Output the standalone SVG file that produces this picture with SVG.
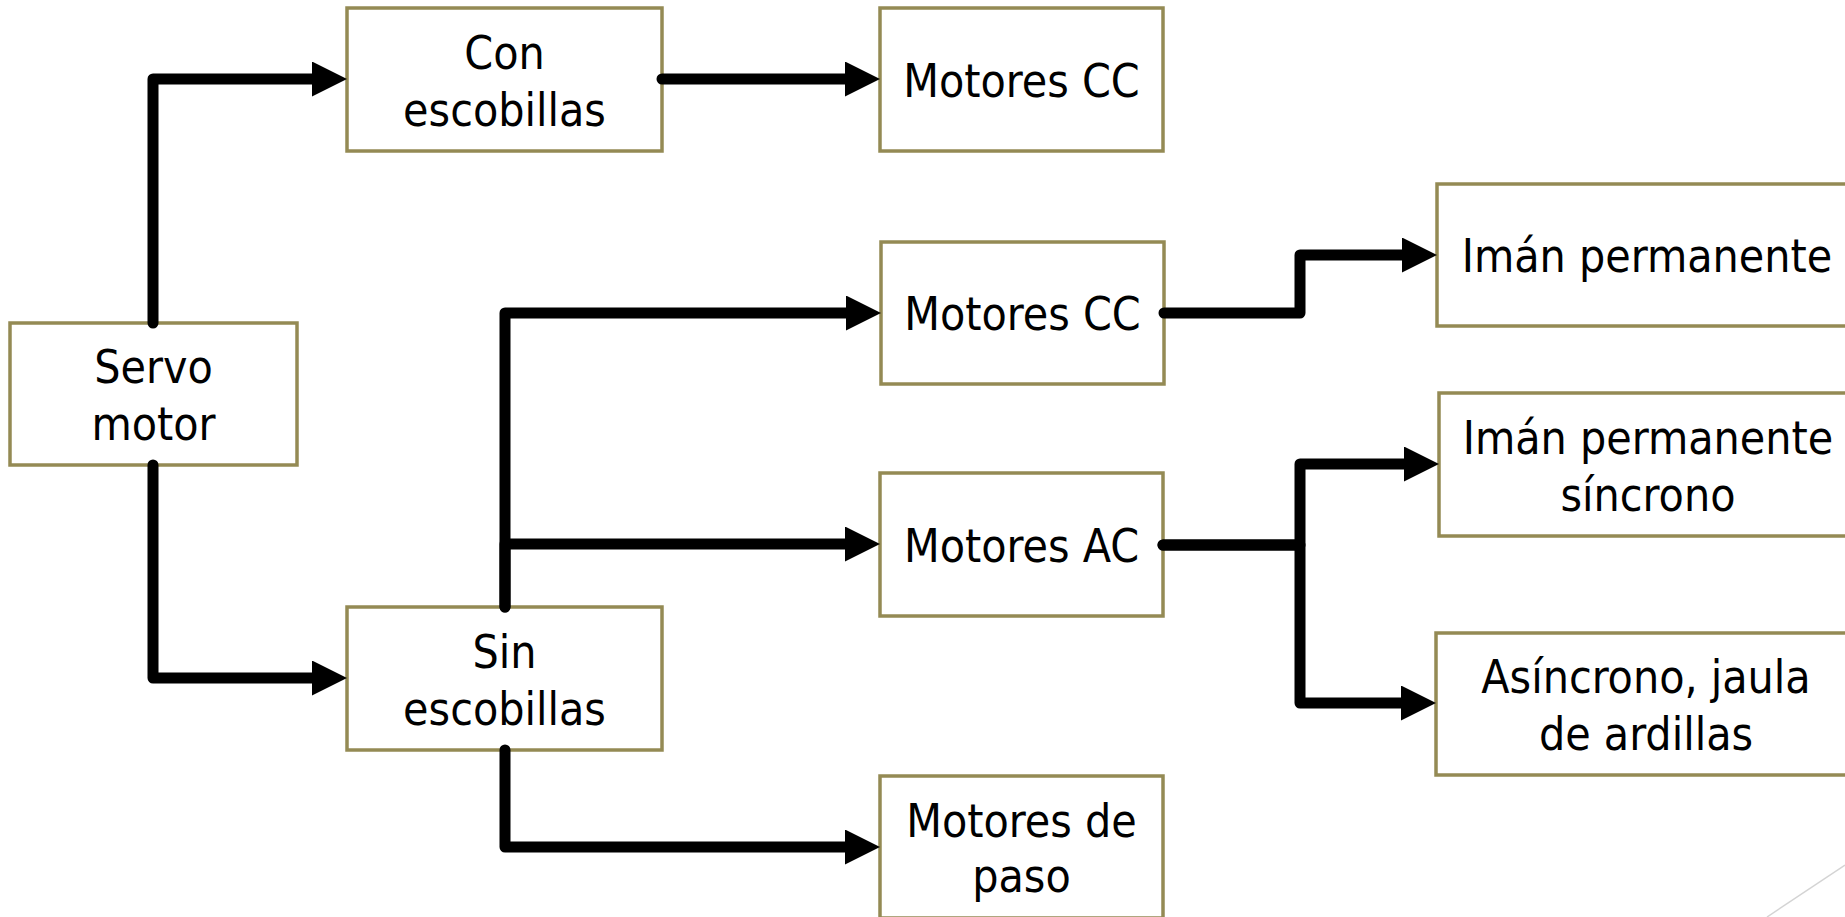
<svg xmlns="http://www.w3.org/2000/svg" width="1845" height="917" viewBox="0 0 1845 917">
<style>
.box{fill:#ffffff;stroke:#948A54;stroke-width:3.5}
.lbl{font-family:"DejaVu Sans Condensed","DejaVu Sans",sans-serif;font-stretch:condensed;font-size:46px;fill:#000000;text-anchor:middle}
.con{fill:none;stroke:#000000;stroke-width:11;stroke-linecap:round;stroke-linejoin:round}
.arr{fill:none;stroke:#000000;stroke-width:11;stroke-linecap:round;stroke-linejoin:round;marker-end:url(#ah)}
</style>
<defs>
<marker id="ah" markerUnits="userSpaceOnUse" viewBox="0 0 35 35" refX="0" refY="17.5" markerWidth="35" markerHeight="35" orient="auto">
<path d="M0,0 L35,17.5 L0,35 Z" fill="#000000"/>
</marker>
</defs>
<rect width="1845" height="917" fill="#ffffff"/>
<line x1="1767" y1="917" x2="1845" y2="865" stroke="#d4d4d4" stroke-width="1.5"/>
<g id="n-servo"><rect class="box" x="10" y="323" width="287" height="142"/><text class="lbl" x="153.5" y="383">Servo</text><text class="lbl" x="153.5" y="440">motor</text></g>
<g id="n-con"><rect class="box" x="347" y="8" width="315" height="143"/><text class="lbl" x="504.5" y="69">Con</text><text class="lbl" x="504.5" y="126">escobillas</text></g>
<g id="n-sin"><rect class="box" x="347" y="607" width="315" height="143"/><text class="lbl" x="504.5" y="668">Sin</text><text class="lbl" x="504.5" y="725">escobillas</text></g>
<g id="n-cc1"><rect class="box" x="880" y="8" width="283" height="143"/><text class="lbl" x="1021.5" y="97">Motores CC</text></g>
<g id="n-cc2"><rect class="box" x="881" y="242" width="283" height="142"/><text class="lbl" x="1022.5" y="330">Motores CC</text></g>
<g id="n-ac"><rect class="box" x="880" y="473" width="283" height="143"/><text class="lbl" x="1021.5" y="562">Motores AC</text></g>
<g id="n-paso"><rect class="box" x="880" y="776" width="283" height="142"/><text class="lbl" x="1021.5" y="837">Motores de</text><text class="lbl" x="1021.5" y="892">paso</text></g>
<g id="n-iman"><rect class="box" x="1437" y="184" width="420" height="142"/><text class="lbl" x="1647" y="272">Imán permanente</text></g>
<g id="n-sinc"><rect class="box" x="1439" y="393" width="420" height="143"/><text class="lbl" x="1648" y="454">Imán permanente</text><text class="lbl" x="1648" y="511">síncrono</text></g>
<g id="n-asinc"><rect class="box" x="1436" y="633" width="420" height="142"/><text class="lbl" x="1646" y="693">Asíncrono, jaula</text><text class="lbl" x="1646" y="750">de ardillas</text></g>
<g id="connectors">
<path class="arr" d="M153,323 V79 H312"/>
<path class="arr" d="M153,465 V678 H312"/>
<path class="arr" d="M662,79 H845"/>
<path class="arr" d="M505,607 V313 H846"/>
<path class="arr" d="M505,607 V544 H845"/>
<path class="arr" d="M505,750 V847 H845"/>
<path class="arr" d="M1164,313 H1300 V255 H1402"/>
<path class="arr" d="M1163,545 H1300 V464 H1404"/>
<path class="arr" d="M1163,545 H1300 V703 H1401"/>
</g>
</svg>
